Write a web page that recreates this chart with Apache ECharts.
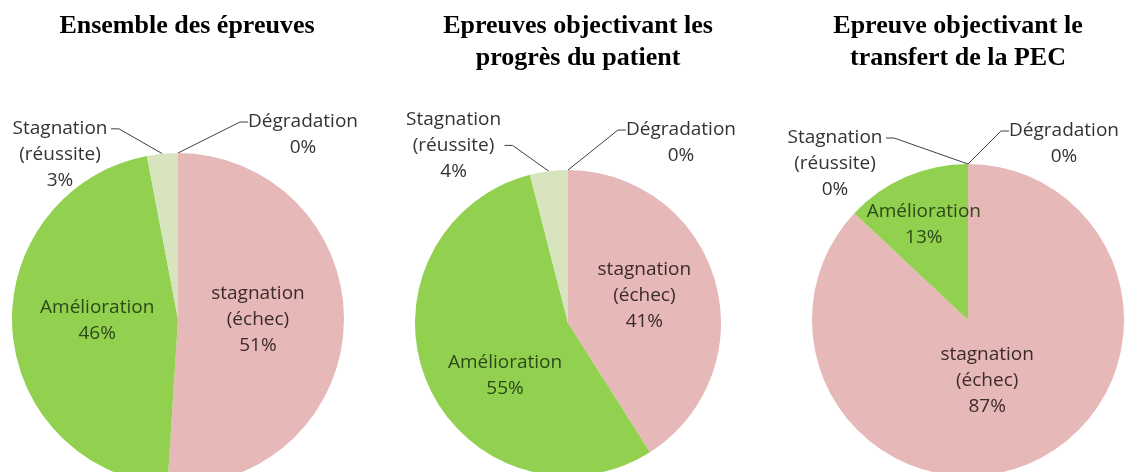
<!DOCTYPE html>
<html>
<head>
<meta charset="utf-8">
<script src="https://cdn.jsdelivr.net/npm/echarts@6/dist/echarts.min.js"></script>
<style>
  html, body { margin: 0; padding: 0; background: #fff; }
  #chart { width: 1128px; height: 472px; }
</style>
</head>
<body>
<div id="chart"></div>
<script>
// categories, in drawing order (clockwise from 12 o'clock)
const categories = ['Dégradation', 'stagnation\n(échec)', 'Amélioration', 'Stagnation\n(réussite)'];

// values (%) for each pie
const valuesAll = [0, 51, 46, 3];
const valuesProgres = [0, 41, 55, 4];
const valuesTransfert = [0, 87, 13, 0];

const titles = [
  'Ensemble des épreuves',
  'Epreuves objectivant les\nprogrès du patient',
  'Epreuve objectivant le\ntransfert de la PEC'
];

const sliceColors = ['#c0504d', '#e6b8b7', '#92d050', '#d7e4bd'];
const insideText = ['#333', '#3d2b2b', '#2c4a17', '#333'];
const LH = 26;
const FS = 19;

// per pie: placement, how the two outside labels hang (index 0 = right, index 3 = left),
// and small nudges for the inside labels (Excel places them a bit differently)
const pies = [
  { values: valuesAll, center: [178, 319], r: 166, x: 182,
    len: [[31, 70], [25, 49]], pad: [1, 2], nudge: { 1: [-6, -2], 2: [5, -4] } },
  { values: valuesProgres, center: [568, 323], r: 153, x: 573,
    len: [[40, 58], [26, 41]], pad: [1, 0], nudge: { 1: [0, -5], 2: [10, 21] } },
  { values: valuesTransfert, center: [968, 320], r: 156, x: 953,
    len: [[33, 41], [26, 82]], pad: [1, 2], nudge: { 1: [-13, -14], 2: [-12, -21] } }
];

function buildData(p) {
  return p.values.map((v, i) => {
    const outside = v < 10;
    const item = {
      name: categories[i],
      value: v,
      itemStyle: { color: sliceColors[i] }
    };
    if (outside) {
      const k = i === 0 ? 0 : 1;
      item.label = {
        position: 'outside',
        color: '#333',
        padding: [p.pad[k] * LH, 0, 0, 0],
        formatter: (prm) => (prm.name + '\n' + prm.value + '%')
          .split('\n').map(s => '{o|' + s + '}').join('\n'),
        rich: { o: { width: k === 0 ? 108 : 98, align: 'center', lineHeight: LH, fontSize: FS, color: '#333', fontFamily: 'Open Sans' } }
      };
      item.labelLine = { show: true, length: p.len[k][0], length2: p.len[k][1] };
    } else {
      item.label = {
        position: 'inside',
        color: insideText[i],
        formatter: (prm) => prm.name + '\n' + prm.value + '%'
      };
      item.labelLine = { show: false };
    }
    return item;
  });
}

// Excel-style leader: the zero slice at 12 o'clock gets its label on the right,
// the last small slice on the left; the line runs diagonally then a short flat tail.
function makeLayout(p) {
  return function (params) {
    const pts = params.labelLinePoints;
    if (!pts) {
      const n = p.nudge[params.dataIndex];
      return n ? { dx: n[0], dy: n[1] } : {};
    }
    const want = params.dataIndex === 0 ? 1 : -1;
    const p0 = pts[0];
    let p1 = pts[1].slice();
    let p2 = pts[2].slice();
    const rect = params.labelRect;
    const out = {};
    const side = p2[0] >= p0[0] ? 1 : -1;
    if (side !== want) {
      p1[0] = 2 * p0[0] - p1[0];
      p2[0] = 2 * p0[0] - p2[0];
      const left = 2 * p0[0] - (rect.x + rect.width);
      out.x = want > 0 ? left : left + rect.width;
      out.align = want > 0 ? 'left' : 'right';
    }
    p1 = [p2[0] - want * 8, p2[1]];
    out.labelLinePoints = [p0, p1, p2];
    return out;
  };
}

const chart = echarts.init(document.getElementById('chart'), null, { renderer: 'canvas' });

chart.setOption({
  animation: false,
  backgroundColor: '#fff',
  title: pies.map((p, k) => ({
    text: titles[k],
    left: p.x,
    top: 5,
    textAlign: 'center',
    textStyle: {
      fontFamily: 'Liberation Serif',
      fontWeight: 'bold',
      fontSize: 26,
      lineHeight: 32,
      color: '#000'
    }
  })),
  series: pies.map(p => ({
    type: 'pie',
    center: p.center,
    radius: p.r,
    startAngle: 90,
    clockwise: true,
    avoidLabelOverlap: false,
    stillShowZeroSum: true,
    silent: true,
    label: {
      position: 'outside',
      fontFamily: 'Open Sans',
      fontSize: FS,
      lineHeight: LH,
      align: 'center',
      distanceToLabelLine: 2
    },
    labelLine: {
      show: true,
      lineStyle: { color: '#404040', width: 1 }
    },
    labelLayout: makeLayout(p),
    itemStyle: { borderWidth: 0 },
    emphasis: { disabled: true },
    data: buildData(p)
  }))
});
</script>
</body>
</html>
